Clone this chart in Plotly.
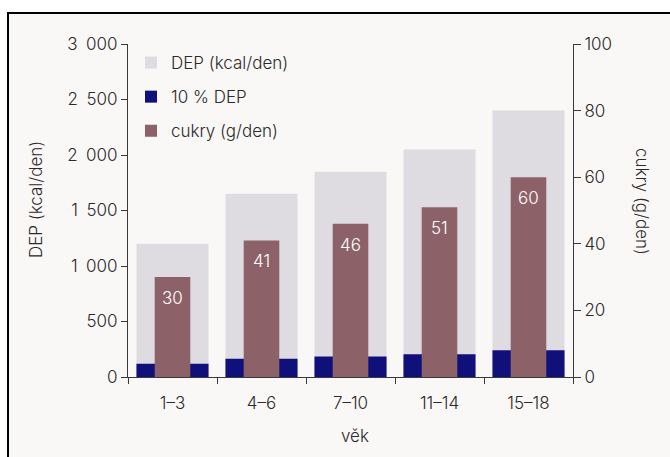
import plotly.graph_objects as go

# Age groups and daily values
ages = ["1–3", "4–6", "7–10", "11–14", "15–18"]
dep_kcal = [1200, 1650, 1850, 2050, 2400]        # DEP (kcal/den)
dep10_kcal = [120, 165, 185, 205, 240]           # 10 % DEP (kcal/den)
sugar_g = [30, 41, 46, 51, 60]                   # cukry (g/den)

left_tickvals = [0, 500, 1000, 1500, 2000, 2500, 3000]
left_ticktext = ["0", "500", "1\u2002000", "1\u2002500", "2\u2002000", "2\u2002500", "3\u2002000"]
right_tickvals = [0, 20, 40, 60, 80, 100]

W, H = 670, 457
ML, MR, MT, MB = 128, 97, 44, 80
PW, PH = W - ML - MR, H - MT - MB

FONT = "Inter"
TXT = "#2a2a2a"
AXC = "#3a3a3a"
BG = "#faf8f7"
WEIGHT = 300


def px_x(px):
    return (px - ML) / PW


def px_y(py):
    return (H - MB - py) / PH


def tfont(size=17, color=TXT):
    return dict(family=FONT, size=size, color=color, weight=WEIGHT)


fig = go.Figure()
fig.add_bar(x=ages, y=dep_kcal, name="DEP (kcal/den)", marker_color="#dedce1",
            marker_line_width=0, width=0.81, opacity=1, legendgroup="g1")
fig.add_bar(x=ages, y=dep10_kcal, name="10 % DEP", marker_color="#10107a",
            marker_line_width=0, width=0.81, opacity=1, legendgroup="g2")
fig.add_bar(x=ages, y=sugar_g, name="cukry (g/den)", marker_color="#8c6268",
            marker_line_width=0, width=0.40, opacity=1, yaxis="y2", legendgroup="g3")

annotations = []
for a, v in zip(ages, sugar_g):
    annotations.append(dict(x=a, y=v, xref="x", yref="y2", text=str(v), showarrow=False,
                            yshift=-21, yanchor="middle", xanchor="center",
                            font=tfont(17, "white")))

annotations += [
    dict(x=px_x(36), y=px_y(200), xref="paper", yref="paper", text="DEP (kcal/den)",
         textangle=-90, showarrow=False, xanchor="center", yanchor="middle", font=tfont()),
    dict(x=px_x(642), y=px_y(201), xref="paper", yref="paper", text="cukry (g/den)",
         textangle=90, showarrow=False, xanchor="center", yanchor="middle", font=tfont()),
    dict(x=px_x(355), y=px_y(436), xref="paper", yref="paper", text="věk",
         showarrow=False, xanchor="center", yanchor="middle", font=tfont()),
]

frame = dict(type="rect", xref="paper", yref="paper", layer="below",
             x0=px_x(8), x1=px_x(720), y0=px_y(500), y1=px_y(13),
             line=dict(color="black", width=2), fillcolor=BG)

fig.update_layout(
    width=W, height=H,
    margin=dict(l=ML, r=MR, t=MT, b=MB, pad=0),
    paper_bgcolor="white", plot_bgcolor="rgba(0,0,0,0)",
    barmode="overlay",
    font=tfont(),
    shapes=[frame],
    annotations=annotations,
    legend=dict(x=px_x(131), y=px_y(45), xanchor="left", yanchor="top",
                bgcolor="rgba(0,0,0,0)", traceorder="grouped", tracegroupgap=9,
                font=tfont()),
    xaxis=dict(type="category", range=[-0.5, 4.5], tickson="boundaries",
               ticks="outside", ticklen=6, tickcolor=AXC, showline=True,
               linecolor=AXC, linewidth=1, showgrid=False, ticklabelstandoff=11,
               tickfont=tfont()),
    yaxis=dict(range=[0, 3000], tickvals=left_tickvals, ticktext=left_ticktext,
               ticks="outside", ticklen=6, tickcolor=AXC, showline=True,
               linecolor=AXC, linewidth=1, showgrid=False, zeroline=False,
               tickfont=tfont()),
    yaxis2=dict(range=[0, 100], tickvals=right_tickvals, overlaying="y", side="right",
                ticks="outside", ticklen=7, tickcolor=AXC, showline=True,
                linecolor=AXC, linewidth=1, showgrid=False, zeroline=False,
                tickfont=tfont()),
)

fig.write_html("out.html")
